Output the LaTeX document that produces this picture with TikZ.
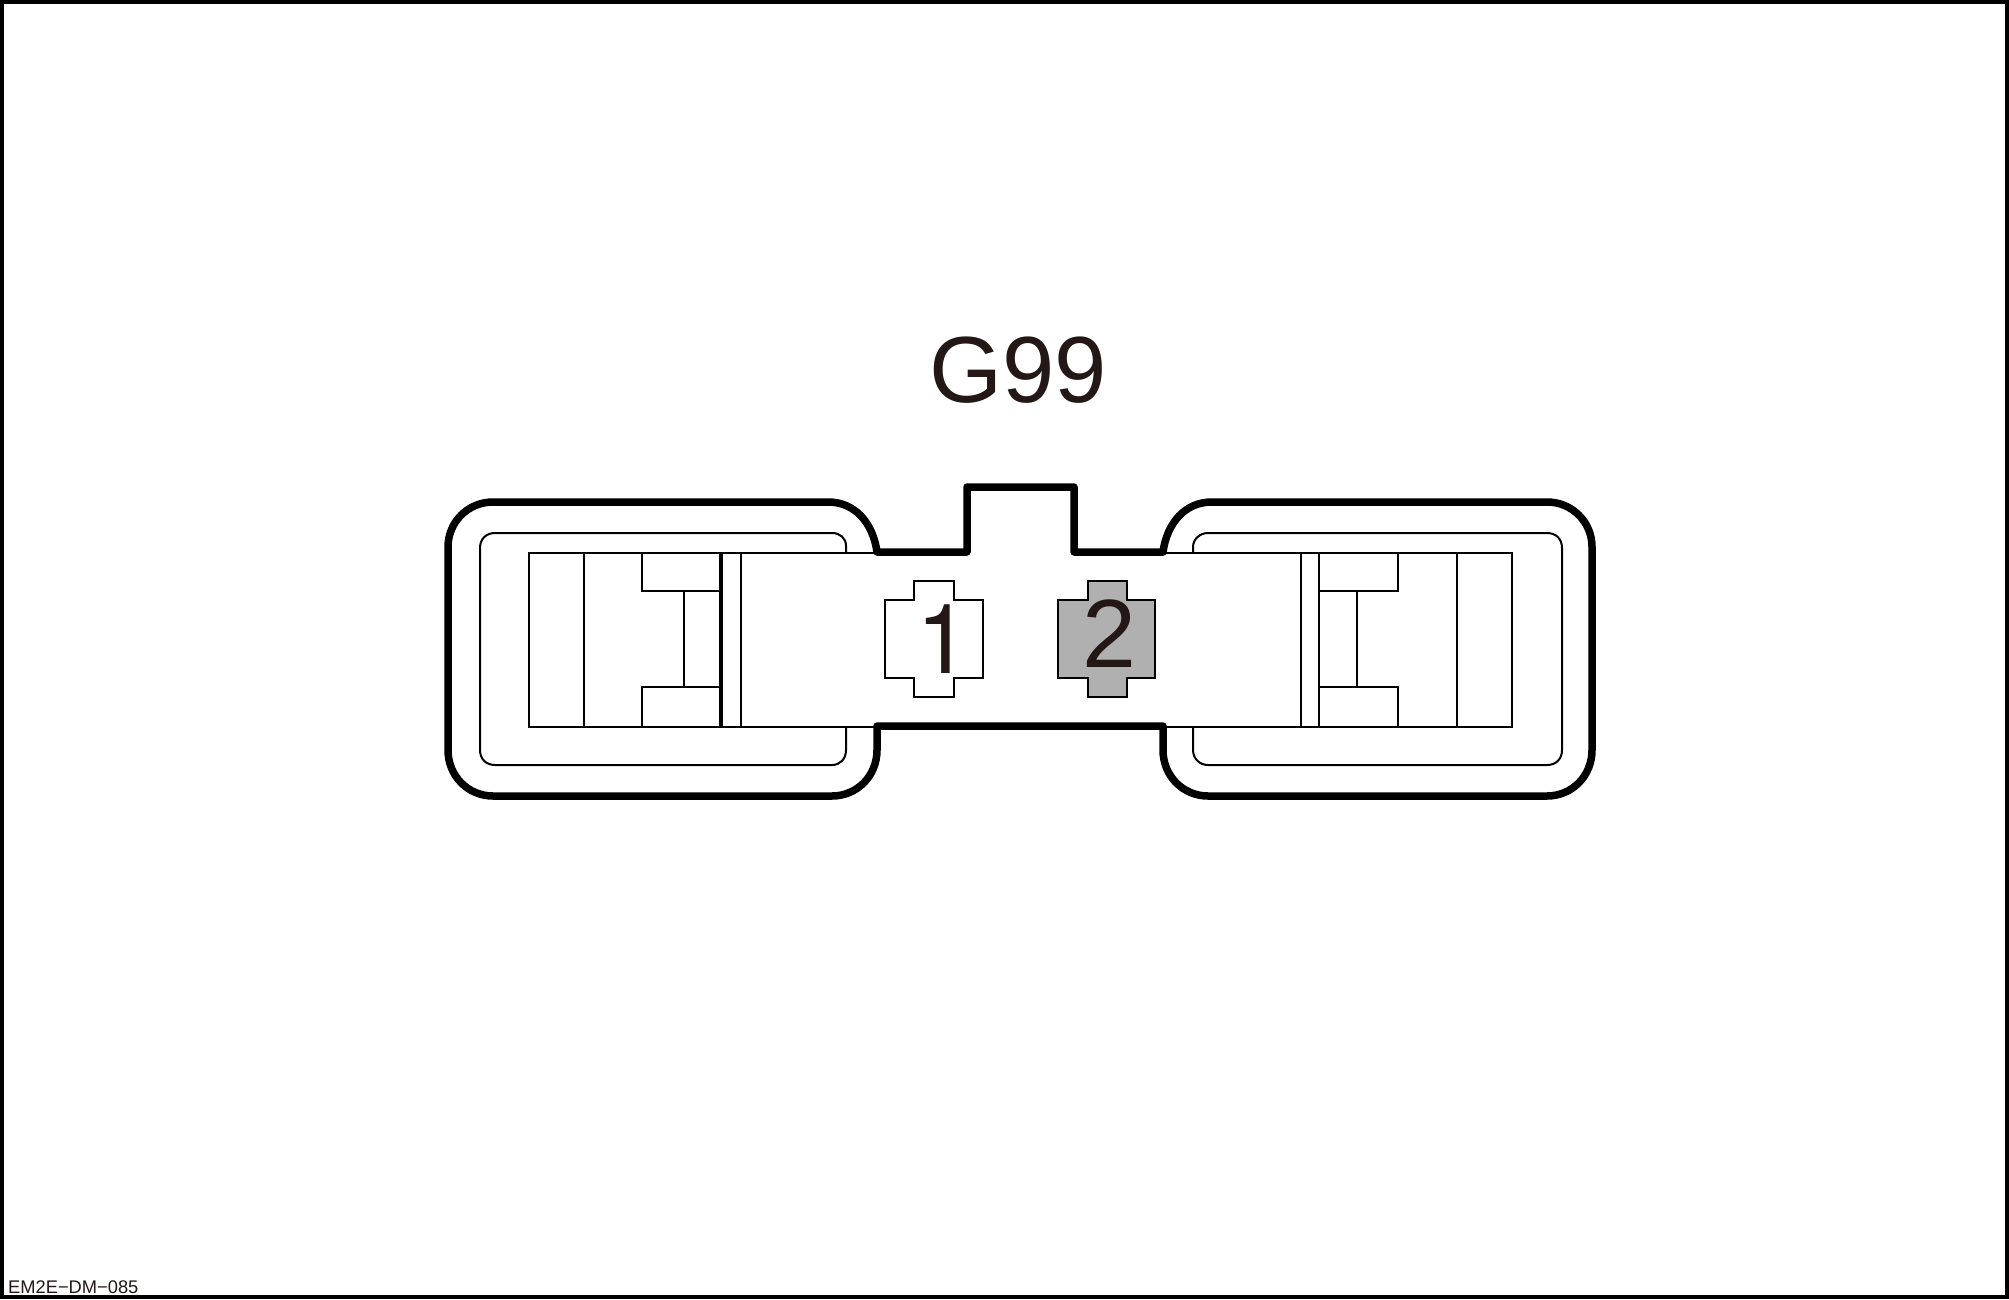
\documentclass[tikz,border=0pt]{standalone}
\usepackage{fontspec}
\setmainfont{Liberation Sans}
\newfontfamily\heros{TeX Gyre Heros}
\definecolor{ink}{HTML}{231815}
\definecolor{pingray}{HTML}{B0B0B0}
\tikzset{
  heavy/.style={draw=black,line width=7.5pt,line join=round,line cap=round},
  thin part/.style={draw=black,line width=2pt,line join=miter},
  frameline/.style={draw=black,line width=4.5pt},
  pinlabel/.style={text=ink,anchor=base,inner sep=0pt,font=\fontsize{97}{97}\selectfont},
  title/.style={text=ink,anchor=base,inner sep=0pt,font=\fontsize{94}{94}\selectfont},
  code/.style={text=ink,anchor=base west,inner sep=0pt,font=\fontsize{18.3}{18.3}\selectfont},
}
\begin{document}
\begin{tikzpicture}[x=1pt,y=-1pt]
\useasboundingbox (0,0) rectangle (2009,1300);
\draw[frameline] (2,2) rectangle (2007,1297);
% inner rounded outlines
\draw[thin part] (846,552) -- (846,546) .. controls (846,538) and (840,533) .. (832,533) -- (495,533)
  .. controls (486,533) and (480,539) .. (480,548) -- (480,750) .. controls (480,759) and (486,765) .. (495,765)
  -- (832,765) .. controls (840,765) and (846,759) .. (846,750) -- (846,726);
\draw[thin part] (1193,552) -- (1193,547) .. controls (1193,539) and (1200,533) .. (1208,533) -- (1547,533)
  .. controls (1556,533) and (1562,539) .. (1562,548) -- (1562,750) .. controls (1562,759) and (1556,765) .. (1547,765)
  -- (1208,765) .. controls (1200,765) and (1193,759) .. (1193,750) -- (1193,726);
% body
\draw[thin part] (877,552.5) -- (529,552.5) -- (529,726.5) -- (877,726.5);
\draw[thin part] (1163,552.5) -- (1512,552.5) -- (1512,726.5) -- (1163,726.5);
% left latch
\draw[thin part] (584,552) -- (584,726);
\draw[thin part] (642,552) -- (642,591) -- (721,591);
\draw[thin part] (642,726) -- (642,687) -- (721,687);
\draw[thin part] (684,591) -- (684,687);
\draw[draw=black,line width=3.5pt] (721,552) -- (721,726);
\draw[thin part] (740.5,552) -- (740.5,726);
% right latch
\draw[thin part] (1301,552) -- (1301,726);
\draw[thin part] (1319,552) -- (1319,726);
\draw[thin part] (1398,552) -- (1398,591) -- (1319,591);
\draw[thin part] (1398,726) -- (1398,687) -- (1319,687);
\draw[thin part] (1357,591) -- (1357,687);
\draw[thin part] (1457,552) -- (1457,726);
% heavy outline
\draw[heavy] (877,552) .. controls (873,523) and (855,502) .. (828,502) -- (493,502)
  .. controls (468,502) and (448,522) .. (448,547) -- (448,750)
  .. controls (448,776) and (468,796) .. (493,796) -- (832,796)
  .. controls (857,796) and (877,776) .. (877,750) -- (877,726) -- (1163,726) -- (1163,750)
  .. controls (1163,776) and (1183,796) .. (1208,796) -- (1547,796)
  .. controls (1572,796) and (1592,776) .. (1592,750) -- (1592,547)
  .. controls (1592,522) and (1572,502) .. (1547,502) -- (1212,502)
  .. controls (1185,502) and (1167,523) .. (1163,552) -- (1074,552) -- (1074,487) -- (967,487) -- (967,552) -- cycle;
% pins
\draw[thin part,fill=white] (885,600) -- (914,600) -- (914,581) -- (954,581) -- (954,600) -- (983,600)
  -- (983,678) -- (954,678) -- (954,697) -- (914,697) -- (914,678) -- (885,678) -- cycle;
\draw[thin part,fill=pingray] (1058,600) -- (1088,600) -- (1088,581) -- (1127,581) -- (1127,600) -- (1155,600)
  -- (1155,678) -- (1127,678) -- (1127,697) -- (1088,697) -- (1088,678) -- (1058,678) -- cycle;
\node[pinlabel] (pinone) at (943,673) {\heros 1};
\node[pinlabel] (pintwo) at (1109,667.5) {2};
\node[title] (name) at (1018,402) {G99};
\node[code] (ref) at (8,1293) {EM2E−DM−085};
\end{tikzpicture}
\end{document}
